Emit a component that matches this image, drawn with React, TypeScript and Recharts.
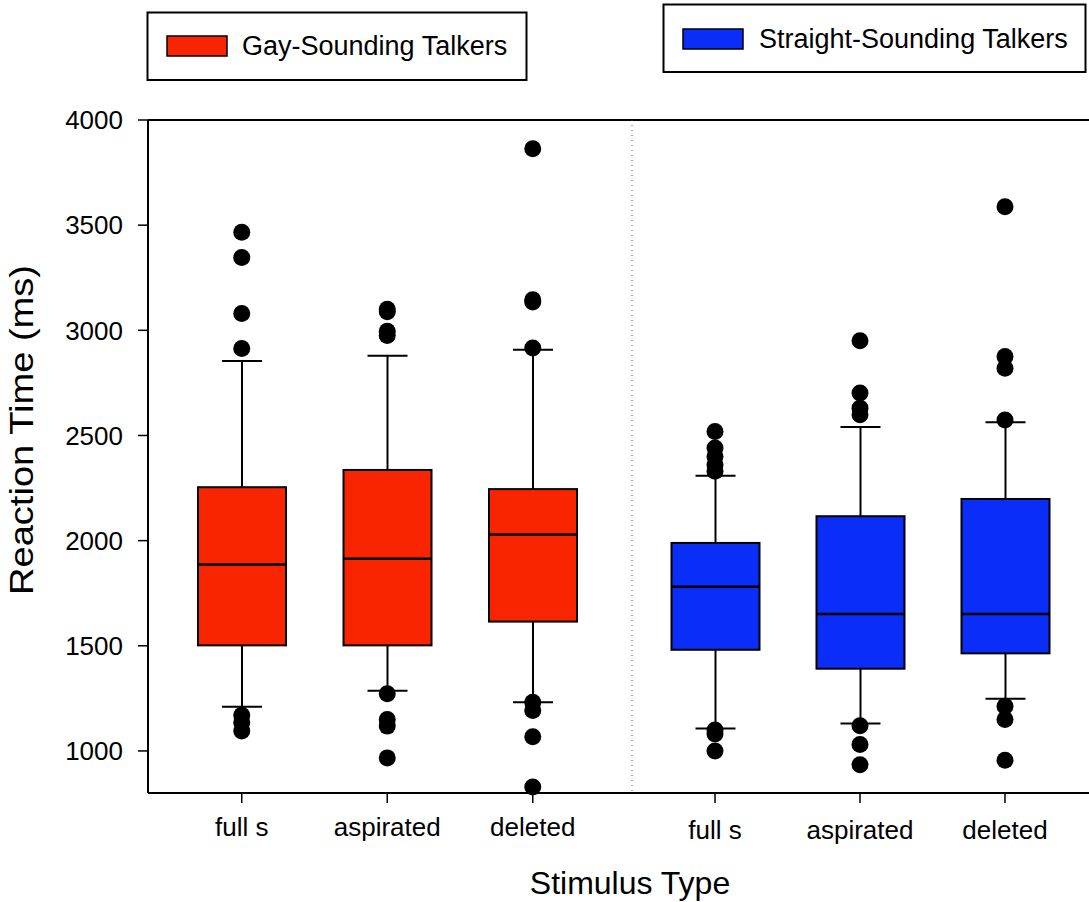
import React from 'react'
import { ComposedChart, Bar, Scatter, XAxis, YAxis, ReferenceLine } from 'recharts'

const FONT = '"Liberation Sans", Arial, sans-serif'
const RED = '#F92400'
const BLUE = '#0A2EF8'

const categories = ['full s', 'aspirated', 'deleted']
const yTicks = [1000, 1500, 2000, 2500, 3000, 3500, 4000]

// Gay-sounding talkers
const gayQ1 = [1502, 1502, 1615]
const gayMedian = [1886, 1914, 2029]
const gayQ3 = [2254, 2336, 2245]
const gayLow = [1210, 1286, 1231]
const gayHigh = [2854, 2879, 2908]
const gayOutliers = [
  [3466, 3346, 3080, 2914, 1170, 1135, 1095],
  [3100, 3088, 2995, 2975, 1272, 1150, 1118, 967],
  [3863, 3145, 3135, 2916, 1232, 1192, 1067, 829],
]

// Straight-sounding talkers
const straightQ1 = [1481, 1391, 1464]
const straightMedian = [1781, 1651, 1651]
const straightQ3 = [1989, 2116, 2198]
const straightLow = [1107, 1131, 1248]
const straightHigh = [2309, 2540, 2563]
const straightOutliers = [
  [2519, 2440, 2400, 2360, 2330, 1100, 1080, 1000],
  [2950, 2702, 2630, 2598, 1120, 1031, 934],
  [3587, 2876, 2820, 2574, 1213, 1150, 956],
]

function buildBoxes(q1: number[], med: number[], q3: number[], lo: number[], hi: number[]) {
  return categories.map((name, i) => ({
    name,
    q1: q1[i],
    median: med[i],
    q3: q3[i],
    low: lo[i],
    high: hi[i],
    box: [q1[i], q3[i]],
  }))
}

function buildOutliers(list: number[][]) {
  return categories.flatMap((name, i) => list[i].map((rt) => ({ name, rt })))
}

const gayBoxes = buildBoxes(gayQ1, gayMedian, gayQ3, gayLow, gayHigh)
const straightBoxes = buildBoxes(straightQ1, straightMedian, straightQ3, straightLow, straightHigh)
const gayPoints = buildOutliers(gayOutliers)
const straightPoints = buildOutliers(straightOutliers)

// box + whiskers, positions derived from the bar rectangle the scale gives us
const BoxShape = (props: any) => {
  const { x, y, width, height, fill } = props
  const d = props.payload ?? props
  const k = height / (d.q3 - d.q1)
  const yOf = (v: number) => y + (d.q3 - v) * k
  const cx = x + width / 2
  const cap = 20
  return (
    <g>
      <line x1={cx} x2={cx} y1={yOf(d.high)} y2={y} stroke="#000" strokeWidth={2} />
      <line x1={cx - cap} x2={cx + cap} y1={yOf(d.high)} y2={yOf(d.high)} stroke="#000" strokeWidth={2} />
      <line x1={cx} x2={cx} y1={y + height} y2={yOf(d.low)} stroke="#000" strokeWidth={2} />
      <line x1={cx - cap} x2={cx + cap} y1={yOf(d.low)} y2={yOf(d.low)} stroke="#000" strokeWidth={2} />
      <rect x={x} y={y} width={width} height={height} fill={fill} stroke="#000" strokeWidth={2} />
      <line x1={x} x2={x + width} y1={yOf(d.median)} y2={yOf(d.median)} stroke="#000" strokeWidth={2.5} />
    </g>
  )
}

const Dot = (props: any) => <circle cx={props.cx} cy={props.cy} r={8.5} fill="#000" />

const tickStyle = { fill: '#000', fontSize: 26, fontFamily: FONT }

export default function App() {
  return (
    <div style={{ position: 'absolute', left: 0, top: 0, width: 1089, height: 902, background: '#fff' }}>
      <div style={{ position: 'absolute', left: 0, top: 0 }}>
        <ComposedChart width={632} height={902} data={gayBoxes} margin={{ top: 120, right: 0, bottom: 0, left: 0 }}>
          <XAxis
            dataKey="name"
            allowDuplicatedCategory={false}
            interval={0}
            height={109}
            padding={{ left: 21, right: 26.5 }}
            tickSize={10}
            tickMargin={15}
            tick={tickStyle}
            tickLine={{ stroke: '#000', strokeWidth: 1.5 }}
            axisLine={{ stroke: '#000', strokeWidth: 2 }}
          />
          <YAxis
            type="number"
            domain={[800, 4000]}
            ticks={yTicks}
            width={148}
            tickSize={10}
            tickMargin={15}
            tick={tickStyle}
            tickLine={{ stroke: '#000', strokeWidth: 1.5 }}
            axisLine={{ stroke: '#000', strokeWidth: 2 }}
          />
          <ReferenceLine y={4000} stroke="#000" strokeWidth={2} />
          <Bar dataKey="box" fill={RED} barSize={88} shape={BoxShape} isAnimationActive={false} />
          <Scatter data={gayPoints} dataKey="rt" shape={Dot} isAnimationActive={false} />
        </ComposedChart>
      </div>
      <div style={{ position: 'absolute', left: 630, top: 0 }}>
        <ComposedChart width={459} height={902} data={straightBoxes} margin={{ top: 120, right: 0, bottom: 0, left: 0 }}>
          <XAxis
            dataKey="name"
            allowDuplicatedCategory={false}
            interval={0}
            height={109}
            padding={{ left: 10.5, right: 11.5 }}
            tickSize={10}
            tickMargin={18}
            tick={tickStyle}
            tickLine={{ stroke: '#000', strokeWidth: 1.5 }}
            axisLine={{ stroke: '#000', strokeWidth: 2 }}
          />
          <YAxis
            type="number"
            domain={[800, 4000]}
            ticks={yTicks}
            width={2}
            tick={false}
            tickLine={false}
            axisLine={{ stroke: '#555', strokeWidth: 1, strokeDasharray: '1 4' }}
          />
          <ReferenceLine y={4000} stroke="#000" strokeWidth={2} />
          <Bar dataKey="box" fill={BLUE} barSize={88} shape={BoxShape} isAnimationActive={false} />
          <Scatter data={straightPoints} dataKey="rt" shape={Dot} isAnimationActive={false} />
        </ComposedChart>
      </div>
      <svg
        width={1089}
        height={902}
        style={{ position: 'absolute', left: 0, top: 0, pointerEvents: 'none' }}
        fontFamily={FONT}
      >
        <rect x={147.5} y={12.5} width={379} height={67.5} fill="none" stroke="#000" strokeWidth={2} />
        <rect x={167} y={36} width={60} height={20} fill={RED} stroke="#000" strokeWidth={1.5} />
        <text x={242} y={55} fontSize={27} fill="#000">Gay-Sounding Talkers</text>
        <rect x={663.5} y={4.5} width={422} height={67.5} fill="none" stroke="#000" strokeWidth={2} />
        <rect x={683} y={29} width={60} height={20} fill={BLUE} stroke="#000" strokeWidth={1.5} />
        <text x={759} y={48} fontSize={27} fill="#000">Straight-Sounding Talkers</text>
        <text
          transform="translate(33,430) rotate(-90)"
          textAnchor="middle"
          fontSize={33}
          textLength={330}
          lengthAdjust="spacingAndGlyphs"
          fill="#000"
        >
          Reaction Time (ms)
        </text>
        <text x={630} y={894} textAnchor="middle" fontSize={32} fill="#000">Stimulus Type</text>
      </svg>
    </div>
  )
}
